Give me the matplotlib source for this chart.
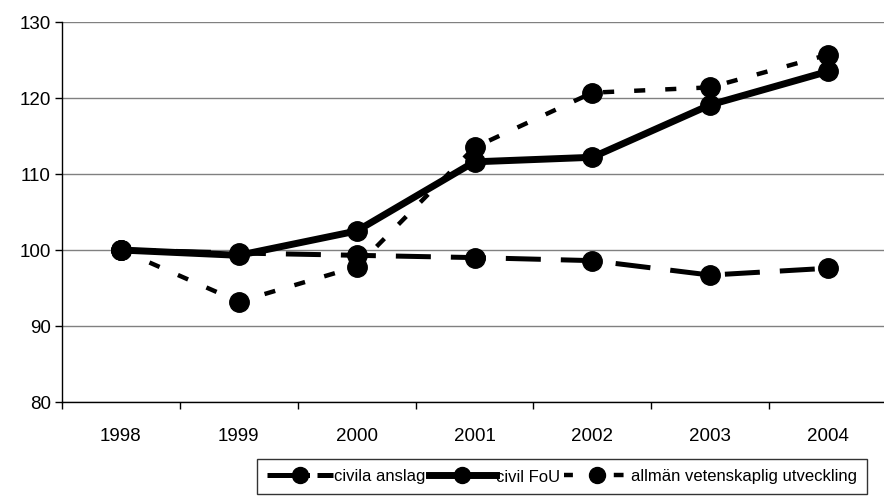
import matplotlib.pyplot as plt

plt.rcParams['font.family'] = ['Liberation Sans', 'DejaVu Sans']

years = ['1998', '1999', '2000', '2001', '2002', '2003', '2004']
civila_anslag = [100, 99.6, 99.3, 99.0, 98.6, 96.7, 97.6]
civil_fou = [100, 99.3, 102.5, 111.6, 112.2, 119.1, 123.5]
allman = [100, 93.2, 97.8, 113.5, 120.7, 121.4, 125.7]

fig = plt.figure(figsize=(8.84, 5.02), dpi=100)
ax = fig.add_axes([62 / 884, 1 - 403 / 502, (887 - 62) / 884, (403 - 23) / 502])

x = range(len(years))
ax.plot(x, civila_anslag, color='black', lw=3.6, dashes=(7, 4), marker='o', ms=14,
        label='civila anslag')
ax.plot(x, civil_fou, color='black', lw=5, marker='o', ms=14, label='civil FoU')
ax.plot(x, allman, color='black', lw=3.2, dashes=(2.5, 4.5), marker='o', ms=14,
        label='allmän vetenskaplig utveckling')

ax.set_xlim(-0.5, 6.5)
ax.set_ylim(80, 130)
ax.set_yticks(range(80, 131, 10))
ax.set_xticks(x)
ax.set_xticklabels(years)
ax.set_xticks([i - 0.5 for i in range(8)], minor=True)
ax.tick_params(axis='x', which='major', length=0, pad=18, labelsize=13.5)
ax.tick_params(axis='x', which='minor', length=5, direction='out', width=1)
ax.tick_params(axis='y', length=5, width=1, pad=3, labelsize=13.5)
ax.grid(axis='y', color='#808080', lw=1)
ax.set_axisbelow(True)
for s in ['top', 'right']:
    ax.spines[s].set_visible(False)
ax.spines['left'].set_linewidth(1)
ax.spines['bottom'].set_linewidth(1)

leg = fig.legend(loc='center', bbox_to_anchor=(562 / 884, 1 - 477 / 502), ncol=3,
                 fontsize=12, frameon=True, fancybox=False, edgecolor='black',
                 handlelength=4.0, handletextpad=0.05, columnspacing=0.2,
                 borderpad=0.6, borderaxespad=0)
leg.get_frame().set_linewidth(1)
for h in leg.legend_handles:
    h.set_markersize(11.5)
# dash phase in the legend like the original
leg.legend_handles[0].set_dashes((8.5, 1.5, 3.5, 0.1))
leg.legend_handles[2].set_dashes((2, 9.2, 2.2, 1.6))

fig.savefig('out.png', dpi=100)
